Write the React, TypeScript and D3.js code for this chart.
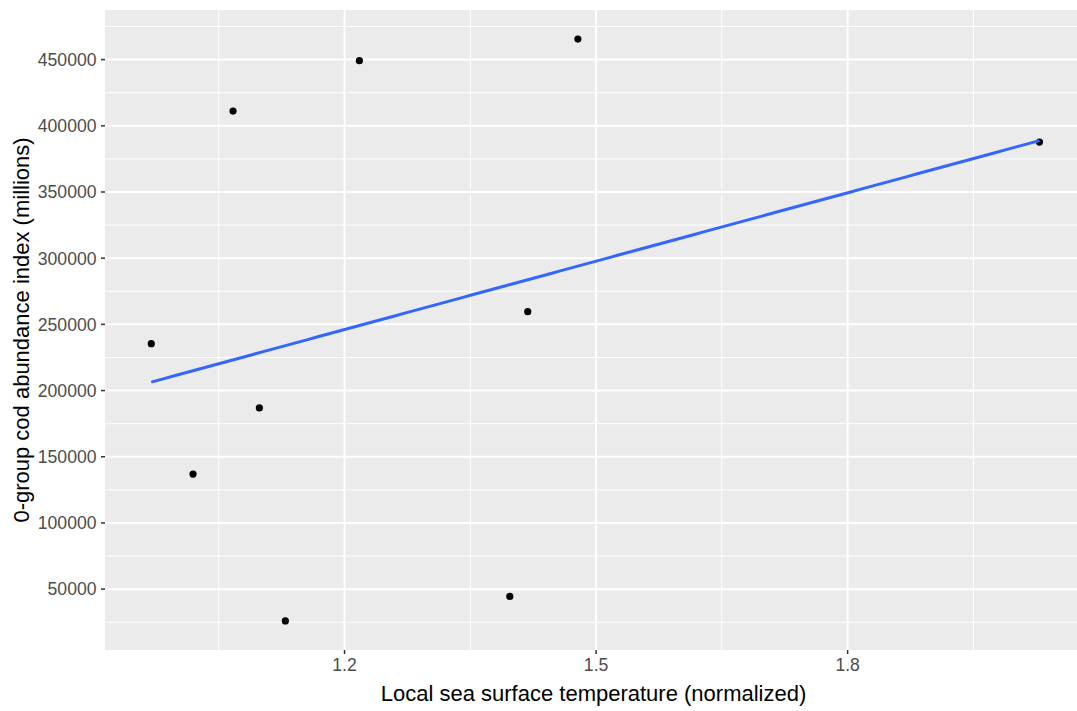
import React from 'react';
import * as d3 from 'd3';

// Data
const temperature = [0.9695, 1.0193, 1.067, 1.0984, 1.1294, 1.2177, 1.3971, 1.4185, 1.4783, 2.0288];
const abundance = [235400, 136900, 411100, 186900, 26000, 449200, 44500, 259600, 465500, 387700];
const xTicks = [1.2, 1.5, 1.8];
const xMinor = [1.05, 1.35, 1.65, 1.95];
const yTicks = [50000, 100000, 150000, 200000, 250000, 300000, 350000, 400000, 450000];
const yMinor = [25000, 75000, 125000, 175000, 225000, 275000, 325000, 375000, 425000, 475000];

const W = 1077;
const H = 711;
// panel runs past the right edge of the picture (it is cropped there)
const panel = { left: 105, top: 10, right: 1087, bottom: 650 };
const font = 'Liberation Sans, Arial, sans-serif';

// expand data range by 5% each side like ggplot
const expand = (ext: [number, number]) => {
  const span = ext[1] - ext[0];
  return [ext[0] - span * 0.05, ext[1] + span * 0.05];
};

const App = () => {
  const x = d3.scaleLinear()
    .domain([0.9143, 2.0855])
    .range([panel.left, panel.right]);
  const y = d3.scaleLinear()
    .domain(expand(d3.extent(abundance) as [number, number]))
    .range([panel.bottom, panel.top]);

  // linear fit (geom_smooth method = "lm", se = FALSE)
  const mx = d3.mean(temperature) as number;
  const my = d3.mean(abundance) as number;
  let sxy = 0;
  let sxx = 0;
  temperature.forEach((t, i) => {
    sxy += (t - mx) * (abundance[i] - my);
    sxx += (t - mx) * (t - mx);
  });
  const slope = sxy / sxx;
  const intercept = my - slope * mx;
  const [x0, x1] = d3.extent(temperature) as [number, number];
  const fit = d3.range(0, 81).map(i => {
    const t = x0 + ((x1 - x0) * i) / 80;
    return [t, intercept + slope * t] as [number, number];
  });
  const line = d3.line<[number, number]>()
    .x(d => x(d[0]))
    .y(d => y(d[1]));

  const pts = temperature.map((t, i) => ({ t, a: abundance[i] }));

  return (
    <svg width={W} height={H} style={{ position: 'absolute', left: 0, top: 0, background: '#fff' }}>
      <defs>
        <clipPath id="panel">
          <rect x={panel.left} y={panel.top} width={panel.right - panel.left} height={panel.bottom - panel.top} />
        </clipPath>
      </defs>
      <rect x={panel.left} y={panel.top} width={panel.right - panel.left} height={panel.bottom - panel.top} fill="#EBEBEB" />
      <g clipPath="url(#panel)">
        {yMinor.map(v => (
          <line key={'ym' + v} x1={panel.left} x2={panel.right} y1={y(v)} y2={y(v)} stroke="#fff" strokeWidth={1} />
        ))}
        {xMinor.map(v => (
          <line key={'xm' + v} x1={x(v)} x2={x(v)} y1={panel.top} y2={panel.bottom} stroke="#fff" strokeWidth={1} />
        ))}
        {yTicks.map(v => (
          <line key={'y' + v} x1={panel.left} x2={panel.right} y1={y(v)} y2={y(v)} stroke="#fff" strokeWidth={2} />
        ))}
        {xTicks.map(v => (
          <line key={'x' + v} x1={x(v)} x2={x(v)} y1={panel.top} y2={panel.bottom} stroke="#fff" strokeWidth={2} />
        ))}
        {pts.map((p, i) => (
          <circle key={i} cx={x(p.t)} cy={y(p.a)} r={3.6} fill="#000" />
        ))}
        <path d={line(fit) as string} fill="none" stroke="#3366FF" strokeWidth={3} />
      </g>

      {/* y axis */}
      {yTicks.map(v => (
        <g key={'yt' + v}>
          <line x1={panel.left - 4} x2={panel.left} y1={y(v)} y2={y(v)} stroke="#333" strokeWidth={1.5} />
          <text x={panel.left - 8.5} y={y(v)} dy="0.36em" textAnchor="end" fontFamily={font} fontSize={17.6} fill="#4D4D4D">
            {v}
          </text>
        </g>
      ))}

      {/* x axis */}
      {xTicks.map(v => (
        <g key={'xt' + v}>
          <line x1={x(v)} x2={x(v)} y1={panel.bottom} y2={panel.bottom + 4} stroke="#333" strokeWidth={1.5} />
          <text x={x(v)} y={670.5} textAnchor="middle" fontFamily={font} fontSize={17.6} fill="#4D4D4D">
            {d3.format('.1f')(v)}
          </text>
        </g>
      ))}

      <text x={593.5} y={701} textAnchor="middle" fontFamily={font} fontSize={22} fill="#000">
        Local sea surface temperature (normalized)
      </text>
      <text
        transform={`translate(29,${(panel.top + panel.bottom) / 2}) rotate(-90)`}
        textAnchor="middle"
        fontFamily={font}
        fontSize={22}
        fill="#000"
      >
        0-group cod abundance index (millions)
      </text>
    </svg>
  );
};

export default App;
